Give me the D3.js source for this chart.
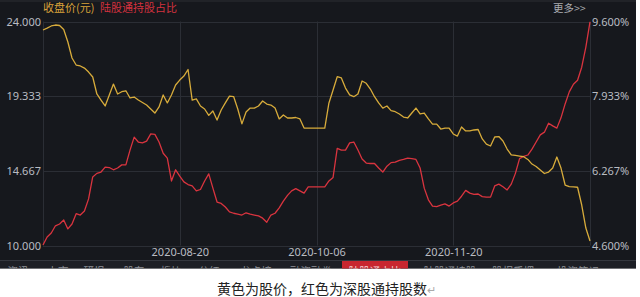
<!DOCTYPE html>
<html>
<head>
<meta charset="utf-8">
<script src="https://cdn.jsdelivr.net/npm/d3@7.9.0/dist/d3.min.js"></script>
<style>
  html, body { margin: 0; padding: 0; background: #fff; }
  svg { display: block; font-family: "Noto Sans CJK SC", "Noto Sans", sans-serif; }
</style>
</head>
<body>
<svg id="chart" width="640" height="297"></svg>
<script>
// 收盘价(元)，按交易日顺序
var price = [
  23.47, 23.59, 23.72, 23.78, 23.75, 23.50, 22.72, 21.72, 21.28, 21.22,
  21.09, 20.84, 20.53, 19.47, 19.09, 18.72, 19.41, 20.09, 19.47, 19.61,
  19.67, 19.22, 19.28, 19.09, 18.94, 18.78, 18.53, 18.28, 18.66, 19.41,
  18.91, 19.41, 20.03, 20.34, 20.59, 21.00, 19.09, 19.16, 18.72, 18.53,
  18.13, 18.41, 17.84, 18.47, 18.91, 19.34, 19.31, 18.53, 17.60, 18.34,
  18.59, 18.59, 18.72, 19.03, 18.84, 18.78, 18.59, 17.91, 18.16, 17.97,
  17.97, 18.00, 17.91, 17.34, 17.33, 17.33, 17.33, 17.33, 17.33, 18.91,
  19.72, 20.55, 20.47, 19.84, 19.41, 19.30, 19.47, 20.28, 20.14, 19.78,
  19.30, 18.91, 18.59, 18.72, 18.43, 18.36, 18.22, 18.03, 17.97, 18.28,
  18.59, 18.22, 18.28, 17.91, 17.59, 17.59, 17.28, 17.33, 17.33, 16.97,
  16.84, 17.41, 17.16, 17.16, 17.22, 17.25, 16.66, 16.34, 16.22, 16.78,
  16.81, 16.53, 16.03, 15.66, 15.63, 15.59, 15.55, 15.38, 15.09, 14.94,
  14.72, 14.50, 14.59, 14.84, 15.53, 14.84, 13.78, 13.68, 13.66, 13.64,
  12.53, 11.09, 10.28
]

// 陆股通持股占比(%)
var holdRatio = [
  4.61, 4.79, 4.88, 5.04, 5.08, 5.17, 4.97, 5.08, 5.31, 5.28,
  5.37, 5.64, 6.13, 6.21, 6.24, 6.35, 6.34, 6.29, 6.33, 6.40,
  6.40, 6.73, 7.02, 6.91, 6.89, 6.93, 7.09, 7.08, 6.91, 6.66,
  6.55, 6.04, 6.29, 6.15, 6.02, 5.96, 5.93, 5.82, 5.85, 6.04,
  6.20, 5.88, 5.57, 5.54, 5.46, 5.35, 5.32, 5.30, 5.28, 5.33,
  5.30, 5.28, 5.26, 5.21, 5.12, 5.28, 5.32, 5.44, 5.59, 5.72,
  5.82, 5.87, 5.82, 5.77, 5.91, 5.91, 5.91, 5.91, 5.91, 6.04,
  6.12, 6.77, 6.73, 6.73, 6.89, 6.91, 6.73, 6.53, 6.44, 6.43,
  6.43, 6.33, 6.24, 6.37, 6.45, 6.46, 6.50, 6.52, 6.55, 6.54,
  6.52, 6.33, 5.88, 5.62, 5.48, 5.47, 5.50, 5.53, 5.48, 5.55,
  5.59, 5.70, 5.83, 5.77, 5.74, 5.75, 5.69, 5.68, 5.68, 5.93,
  5.97, 5.91, 5.84, 5.97, 6.21, 6.54, 6.59, 6.62, 6.75, 6.91,
  7.07, 7.13, 7.33, 7.27, 7.22, 7.45, 7.76, 8.03, 8.20, 8.29,
  8.58, 9.03, 9.59
]

var dateLabels = ['2020-08-20', '2020-10-06', '2020-11-20']
var dateIdx = [33, 66, 99]
var priceTicks = [10, 14.667, 19.333, 24]
var ratioTicks = [4.6, 6.267, 7.933, 9.6]
var tabs = ['资讯', '上市', '研报', '股东', '板块', '分红', '龙虎榜', '融资融券', '陆股通占比', '陆股通持股', '股权质押', '投资笔记']
var tabX = [18, 58, 94, 134, 171, 209, 256, 311, 375, 450, 513, 578]
var activeTab = 8

var W = 640, H = 297
var BG = '#16181d'
var GRID = '#2b2e35'
var YEL = '#e8b83e'
var RED = '#d9343f'
var TXT = '#b9bcc2'

var m = { left: 43, right: 590, top: 21.5, bottom: 245.5 }

var svg = d3.select('#chart')
svg.append('rect').attr('width', W).attr('height', H).attr('fill', '#fff')
svg.append('rect').attr('width', 636).attr('height', 268.5).attr('fill', BG)
svg.append('line').attr('x1', 0).attr('x2', 636).attr('y1', 1).attr('y2', 1).attr('stroke', '#2c2f35')

var x = d3.scaleLinear().domain([0, price.length - 1]).range([m.left, m.right])
var yP = d3.scaleLinear().domain([10, 24]).range([m.bottom, m.top])
var yR = d3.scaleLinear().domain([4.6, 9.6]).range([m.bottom, m.top])

// grid
var g = svg.append('g')
g.selectAll('line.h').data(priceTicks).enter().append('line')
    .attr('x1', m.left).attr('x2', m.right)
    .attr('y1', function (d) { return Math.round(yP(d)) + 0.5 })
    .attr('y2', function (d) { return Math.round(yP(d)) + 0.5 })
    .attr('stroke', GRID).attr('stroke-width', 1)
g.selectAll('line.v').data([0].concat(dateIdx).concat([price.length - 1])).enter().append('line')
    .attr('x1', function (d) { return Math.round(x(d)) + 0.5 })
    .attr('x2', function (d) { return Math.round(x(d)) + 0.5 })
    .attr('y1', m.top).attr('y2', m.bottom)
    .attr('stroke', GRID).attr('stroke-width', 1)

// axes
var fmtP = d3.format('.3f')
var axL = svg.append('g').attr('transform', 'translate(' + (m.left - 2) + ',0)')
    .call(d3.axisLeft(yP).tickValues(priceTicks).tickFormat(fmtP).tickSize(0).tickPadding(0))
var axR = svg.append('g').attr('transform', 'translate(' + (m.right + 2) + ',0)')
    .call(d3.axisRight(yR).tickValues(ratioTicks).tickFormat(function (d) { return d3.format('.3f')(d) + '%' }).tickSize(0).tickPadding(0))
var axB = svg.append('g').attr('transform', 'translate(0,' + (m.bottom + 1) + ')')
    .call(d3.axisBottom(x).tickValues(dateIdx).tickFormat(function (d, i) { return dateLabels[i] }).tickSize(0).tickPadding(0))
;[axL, axR, axB].forEach(function (a) {
    a.select('.domain').remove()
    a.selectAll('text').attr('fill', TXT).attr('font-size', '11px')
        .attr('font-family', '"Noto Sans", "Open Sans", sans-serif')
})
axB.selectAll('text').attr('dy', '0.9em')

// lines
var lineP = d3.line().x(function (d, i) { return x(i) }).y(function (d) { return yP(d) })
var lineR = d3.line().x(function (d, i) { return x(i) }).y(function (d) { return yR(d) })
svg.append('path').datum(holdRatio).attr('d', lineR).attr('fill', 'none')
    .attr('stroke', RED).attr('stroke-width', 1.3).attr('stroke-linejoin', 'round')
svg.append('path').datum(price).attr('d', lineP).attr('fill', 'none')
    .attr('stroke', YEL).attr('stroke-width', 1.3).attr('stroke-linejoin', 'round')
    .attr('stroke-opacity', 0.92)

// legend
svg.append('text').attr('x', 43).attr('y', 11.5).attr('font-size', '11px').attr('fill', '#d9a23a').text('收盘价(元)')
svg.append('text').attr('x', 100).attr('y', 11.5).attr('font-size', '11px').attr('fill', '#d3323f').text('陆股通持股占比')
svg.append('text').attr('x', 553).attr('y', 11.5).attr('font-size', '10.5px').attr('fill', '#a9abb0').text('更多>>')

// tab bar (cut off at the bottom)
svg.append('defs').append('clipPath').attr('id', 'tabclip')
    .append('rect').attr('x', 0).attr('y', 260).attr('width', 636).attr('height', 8.5)
var tb = svg.append('g').attr('clip-path', 'url(#tabclip)')
tb.append('rect').attr('x', 0).attr('y', 260).attr('width', 636).attr('height', 8.5).attr('fill', '#1d1f25')
tb.append('line').attr('x1', 0).attr('x2', 636).attr('y1', 260.5).attr('y2', 260.5).attr('stroke', '#34373e')
tb.append('rect').attr('x', 342).attr('y', 261).attr('width', 66).attr('height', 8).attr('fill', '#c8262f')
tb.selectAll('text').data(tabs).enter().append('text')
    .attr('x', function (d, i) { return tabX[i] })
    .attr('y', 274.5)
    .attr('text-anchor', 'middle')
    .attr('font-size', '10.5px')
    .attr('fill', function (d, i) { return i === activeTab ? '#f3d6d6' : '#8f9298' })
    .text(function (d) { return d })

// caption
var cap = svg.append('text').attr('x', 217).attr('y', 293.5).attr('font-size', '14px').attr('fill', '#222')
cap.append('tspan').text('黄色为股价，红色为深股通持股数')
cap.append('tspan').attr('fill', '#aaa').attr('font-size', '11px').text('↵')
</script>
</body>
</html>
